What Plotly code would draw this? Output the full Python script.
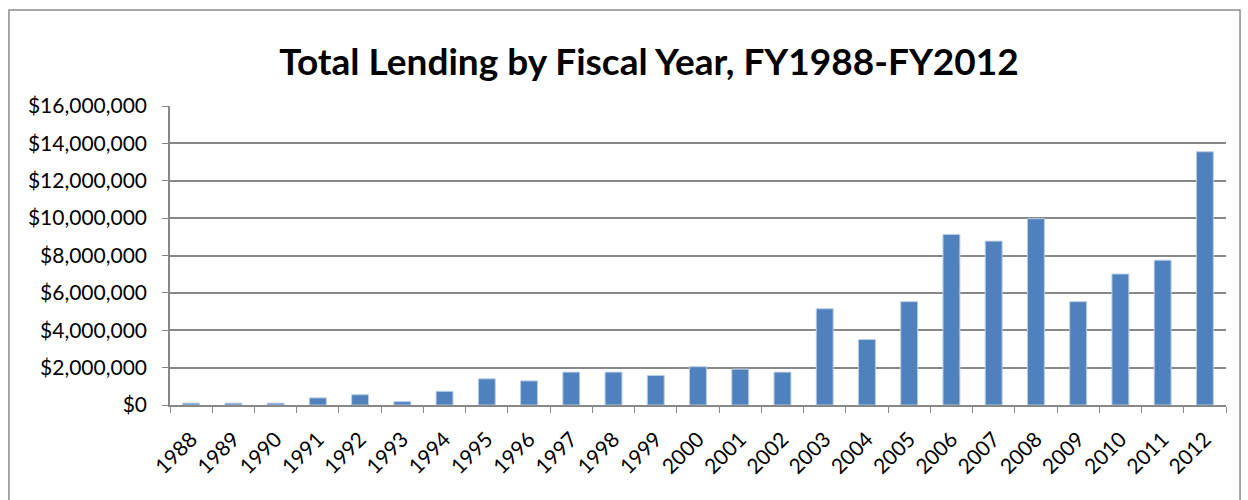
import plotly.graph_objects as go

years = [str(y) for y in range(1988, 2013)]
lending = [100000, 100000, 100000, 380000, 550000, 180000, 730000, 1400000, 1290000,
           1760000, 1760000, 1580000, 2050000, 1920000, 1760000, 5150000, 3500000,
           5530000, 9130000, 8770000, 9970000, 5530000, 7010000, 7750000, 13550000]
y_ticks = list(range(0, 16000001, 2000000))
y_tick_text = ["${:,}".format(v) for v in y_ticks]

fig = go.Figure(go.Bar(
    x=years, y=lending, width=0.4,
    marker=dict(color="#4F81BD", line=dict(color="#B9CDE5", width=1)),
))

fig.update_layout(
    width=1248, height=500,
    paper_bgcolor="white", plot_bgcolor="white",
    margin=dict(l=170, r=22, t=106, b=95),
    showlegend=False,
    title=dict(text="<b>Total Lending by Fiscal Year, FY1988-FY2012</b>",
               x=0.52, xref="container", xanchor="center", y=0.876, yanchor="middle",
               font=dict(family="Lato", size=37, color="black")),
    font=dict(family="Lato", size=21, color="black"),
    bargap=0.6,
)
fig.update_xaxes(
    type="category", tickangle=-45, tickson="boundaries",
    ticks="outside", ticklen=6, tickcolor="#888888",
    showline=True, linecolor="#888888", linewidth=1.5,
    showgrid=False, tickfont=dict(size=21), ticklabelstandoff=12,
    automargin=False,
)
fig.update_yaxes(
    range=[0, 16000000], tickvals=y_ticks, ticktext=y_tick_text,
    ticks="outside", ticklen=6, tickcolor="#888888",
    showline=True, linecolor="#888888", linewidth=1.5,
    showgrid=True, gridcolor="#888888", gridwidth=1.5,
    zeroline=False, tickfont=dict(size=21), ticklabelstandoff=11,
    automargin=False,
)
fig.add_shape(type="rect", xref="paper", yref="paper",
              x0=-0.1525, x1=1.0133, y0=-0.45, y1=1.321,
              line=dict(color="#8C8C8C", width=1.5), fillcolor="rgba(0,0,0,0)")

fig.write_html("out.html")
